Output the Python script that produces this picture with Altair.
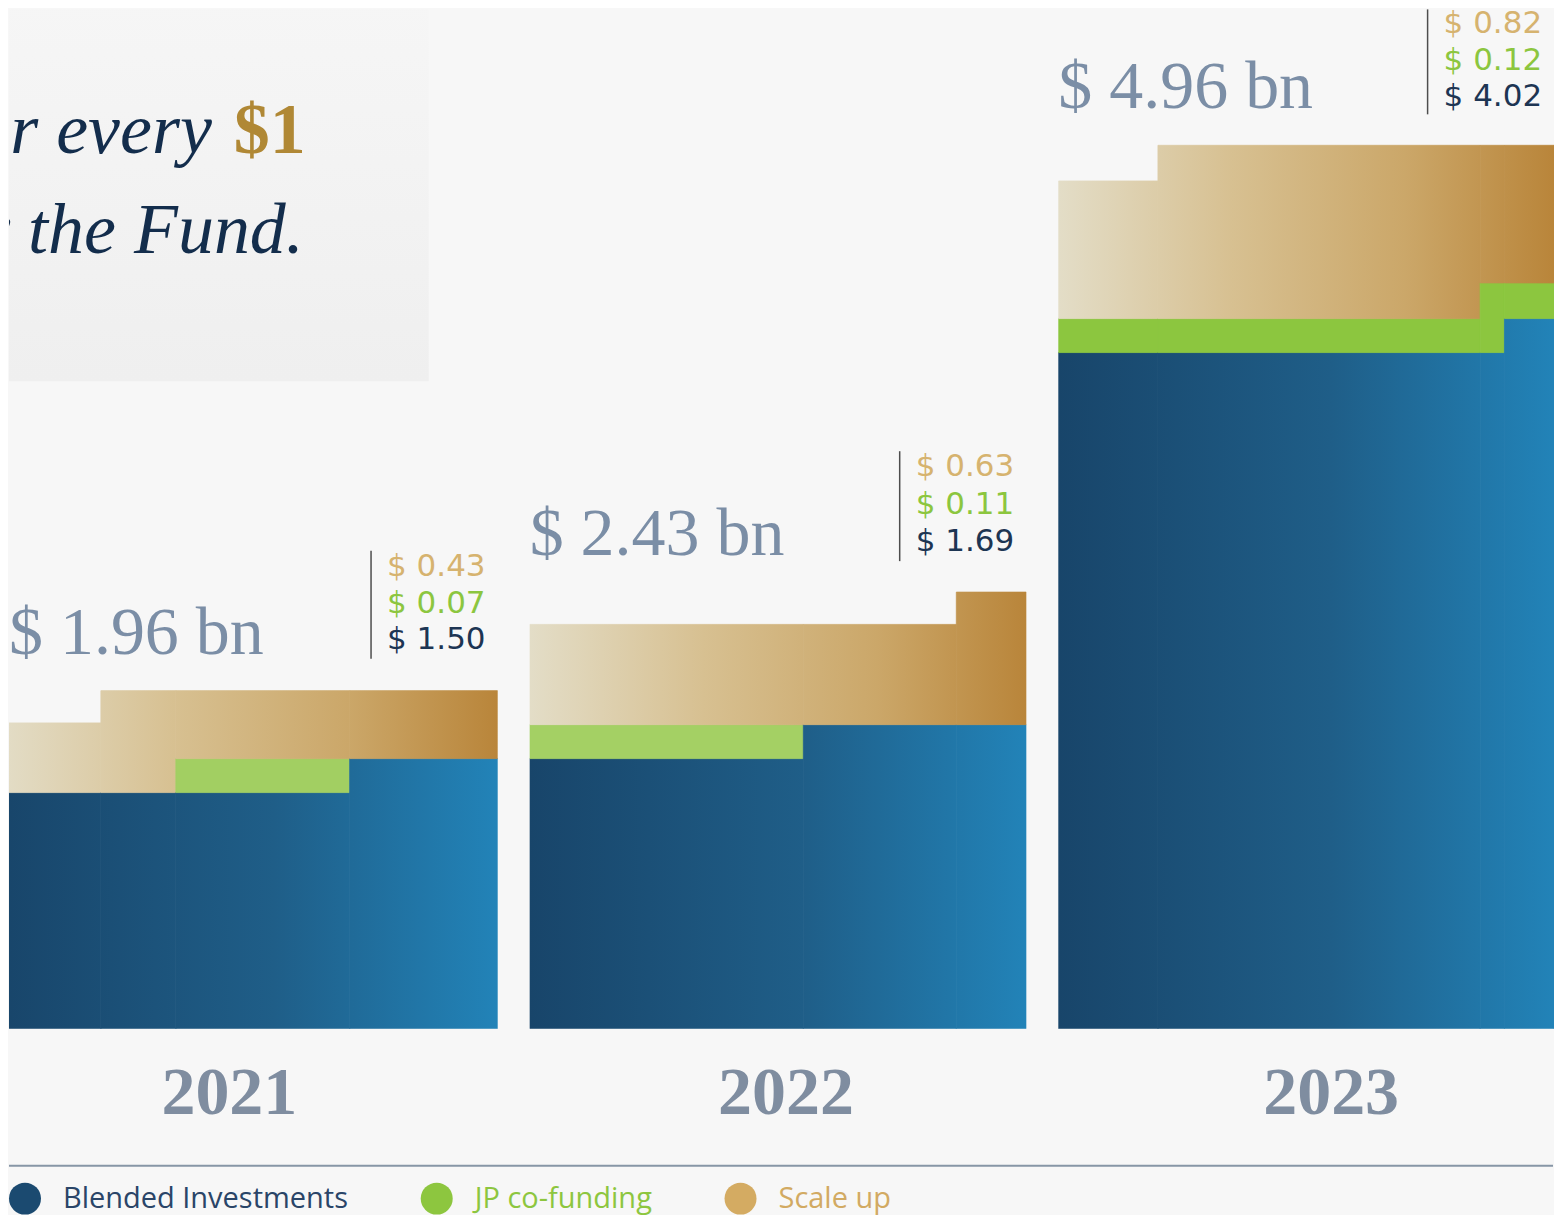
import altair as alt
import pandas as pd

# ---------------- data ----------------
years = ["2021", "2022", "2023"]
total_labels = ["$ 1.96 bn", "$ 2.43 bn", "$ 4.96 bn"]
scale_up_labels = ["$ 0.43", "$ 0.63", "$ 0.82"]
jp_labels = ["$ 0.07", "$ 0.11", "$ 0.12"]
blended_labels = ["$ 1.50", "$ 1.69", "$ 4.02"]
series = ["Blended Investments", "JP co-funding", "Scale up"]

# the bars are drawn as stepped blocks: breaks as share of bar width,
# stacked heights (US$ bn) of every step, as drawn
seg_breaks = [[0, 0.201, 0.352, 0.702, 1.0],
              [0, 0.551, 0.859, 1.0],
              [0, 0.201, 0.851, 0.900, 1.0]]
blended_h = [[1.39, 1.39, 1.39, 1.59], [1.59, 1.79, 1.79], [3.98, 3.98, 3.98, 4.18]]
jp_h = [[0.0, 0.0, 0.20, 0.0], [0.20, 0.0, 0.0], [0.20, 0.20, 0.41, 0.21]]
scale_h = [[0.41, 0.60, 0.40, 0.40], [0.59, 0.59, 0.78], [0.81, 1.02, 0.81, 0.81]]

headline_1 = "for every"
headline_amount = "$1"
headline_2 = "by the Fund."

# ---------------- styling ----------------
BLUE_STOPS = [("#18456a", 0.0), ("#1f5e88", 0.55), ("#2283b8", 1.0)]
GOLD_STOPS = [("#e3ddc7", 0.0), ("#d7c091", 0.35), ("#cba769", 0.7), ("#b9853a", 1.0)]
GREEN = ["#a2cf62", "#a4d064", "#8cc63f"]
LEGEND_COLORS = ["#1b4a70", "#8dc63f", "#d4ab62"]
BG = "#f7f7f7"

panel_w = [489, 497, 496]
x_start = [0.016, 0.0, 0.0]
title_dx = [-24, 8, 25]
line_off = [[-124, -87, -51], [-125, -87, -50], [-121, -84, -48]]
rule_off = [[-140, -32], [-141, -31], [-136, -31]]
PANEL_H = 1020
Y_MAX = 6.0

rows = []
for i, y in enumerate(years):
    br = seg_breaks[i]
    for s in range(len(br) - 1):
        base = 0.0
        for name, vals in (("blended", blended_h), ("jp", jp_h), ("scale", scale_h)):
            v = vals[i][s]
            if v > 0:
                rows.append(dict(year=y, seg=s, series=name, x0=br[s], x1=br[s + 1],
                                 y0=base, y1=base + v))
            base += v
rects = pd.DataFrame(rows)


def grad(stops, a, b):
    w = b - a
    return {"gradient": "linear", "x1": -a / w, "x2": (1 - a) / w, "y1": 0, "y2": 0,
            "stops": [{"color": c, "offset": o} for c, o in stops]}


def panel(i):
    y = years[i]
    xs = alt.Scale(domain=[x_start[i], 1.0], nice=False, zero=False)
    ys = alt.Scale(domain=[0, Y_MAX], nice=False, zero=True)
    layers = []
    if i == 0:
        box = alt.Chart(pd.DataFrame({"k": [0]})).mark_rect(
            clip=True,
            color={"gradient": "linear", "x1": 0, "x2": 0, "y1": 0, "y2": 1,
                   "stops": [{"color": "#f6f6f6", "offset": 0}, {"color": "#efefef", "offset": 1}]},
        ).encode(x=alt.value(-10), x2=alt.value(420), y=alt.value(-10), y2=alt.value(372))
        layers.append(box)
        t1 = alt.Chart(pd.DataFrame({"t": [headline_1]})).mark_text(
            clip=True, align="right", baseline="alphabetic", font="Liberation Serif",
            fontStyle="italic", fontSize=72, color="#132d4c",
        ).encode(x=alt.value(203), y=alt.value(144), text="t:N")
        t2 = alt.Chart(pd.DataFrame({"t": [headline_amount]})).mark_text(
            clip=True, align="right", baseline="alphabetic", font="Liberation Serif",
            fontWeight="bold", fontSize=72, color="#b08835",
        ).encode(x=alt.value(297), y=alt.value(144), text="t:N")
        t3 = alt.Chart(pd.DataFrame({"t": [headline_2]})).mark_text(
            clip=True, align="right", baseline="alphabetic", font="Liberation Serif",
            fontStyle="italic", fontSize=72, color="#132d4c",
        ).encode(x=alt.value(295), y=alt.value(244), text="t:N")
        layers += [t1, t2, t3]

    sub = rects[rects.year == y]
    for _, r in sub.iterrows():
        if r.series == "blended":
            col = grad(BLUE_STOPS, r.x0, r.x1)
        elif r.series == "scale":
            col = grad(GOLD_STOPS, r.x0, r.x1)
        else:
            col = GREEN[i]
        layers.append(
            alt.Chart(pd.DataFrame([r.to_dict()])).mark_rect(
                color=col, stroke=col, strokeWidth=0.8, clip=True).encode(
                x=alt.X("x0:Q", scale=xs, axis=None), x2="x1:Q",
                y=alt.Y("y0:Q", scale=ys, axis=None), y2="y1:Q")
        )

    top = float(sub.y1.max())
    lab = pd.DataFrame({"top": [top], "total": [total_labels[i]], "su": [scale_up_labels[i]],
                        "jp": [jp_labels[i]], "bl": [blended_labels[i]]})
    base = alt.Chart(lab)
    total_txt = base.mark_text(align="left", baseline="alphabetic", dy=-37, font="Liberation Serif",
                               fontSize=68, color="#7b8ea6").encode(
        x=alt.value(0), y=alt.Y("top:Q", scale=ys, axis=None), text="total:N")
    rule = base.mark_rule(yOffset=rule_off[i][0], y2Offset=rule_off[i][1], color="#4d4d4d",
                          strokeWidth=1.5).encode(
        x=alt.X(datum=0.745, scale=xs, axis=None),
        y=alt.Y("top:Q", scale=ys, axis=None), y2="top:Q")
    brk = []
    for fld, col, off in zip(("su", "jp", "bl"), ("#d6b36f", "#8cc63f", "#1d3553"), line_off[i]):
        brk.append(base.mark_text(align="left", baseline="middle", dx=16, dy=off,
                                  font="DejaVu Sans", fontSize=31, color=col).encode(
            x=alt.X(datum=0.745, scale=xs, axis=None),
            y=alt.Y("top:Q", scale=ys, axis=None), text=f"{fld}:N"))
    layers += [total_txt, rule] + brk

    return alt.layer(*layers).properties(
        width=panel_w[i], height=PANEL_H,
        title=alt.TitleParams(y, orient="bottom", frame="group", anchor="middle", dx=title_dx[i],
                              offset=31, font="Liberation Serif", fontSize=68, fontWeight="bold",
                              color="#7f8da0"),
    )


top_row = alt.hconcat(panel(0), panel(1), panel(2), spacing=32).resolve_scale(
    x="independent", y="independent")

legend_df = pd.DataFrame({"series": series})
label_expr = ("datum.label == 'Blended Investments' ? '#2a4568' : "
              "datum.label == 'JP co-funding' ? '#8dc63f' : '#d2aa62'")
legend_layer = alt.Chart(legend_df).mark_point(filled=True, opacity=0, size=0).encode(
    x=alt.value(0), y=alt.value(0),
    color=alt.Color("series:N", scale=alt.Scale(domain=series, range=LEGEND_COLORS),
                    legend=alt.Legend(title=None, orient="none", legendX=0, legendY=1174,
                                      direction="horizontal", symbolType="circle", symbolSize=1024,
                                      symbolOpacity=1, symbolStrokeWidth=0, labelFont="Open Sans",
                                      labelFontSize=29, labelOffset=22, columnPadding=72,
                                      labelLimit=500, padding=0,
                                      labelColor={"expr": label_expr})),
)
rule_layer = alt.Chart(pd.DataFrame({"k": [0]})).mark_rule(color="#8796a6", strokeWidth=2).encode(
    x=alt.value(0), x2=alt.value(1545), y=alt.value(0))
bottom = alt.layer(rule_layer, legend_layer).properties(width=1545, height=2)

chart = alt.vconcat(top_row, bottom, spacing=37).properties(
    padding=0, background=BG).configure_view(stroke=None)

chart.save("out.html", embed_options={"renderer": "svg", "actions": False})
